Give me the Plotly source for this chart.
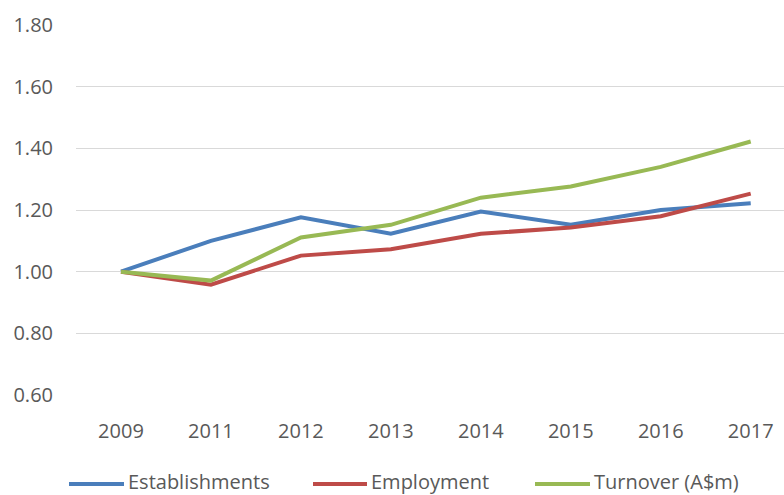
import plotly.graph_objects as go

years = ["2009", "2011", "2012", "2013", "2014", "2015", "2016", "2017"]
establishments = [1.00, 1.10, 1.176, 1.123, 1.195, 1.152, 1.20, 1.222]
employment = [1.00, 0.958, 1.052, 1.073, 1.123, 1.143, 1.180, 1.253]
turnover = [1.00, 0.971, 1.111, 1.152, 1.240, 1.276, 1.340, 1.422]

series_names = ["Establishments", "Employment", "Turnover (A$m)"]
colors = ["#4A7EBB", "#BE4B48", "#98B954"]

W, H = 784, 495
L, R, T, B = 76, 0, 25, 100
pw, ph = W - L - R, H - T - B

fig = go.Figure()
for name, vals, col in zip(series_names, [establishments, employment, turnover], colors):
    fig.add_trace(go.Scatter(
        x=list(range(len(years))), y=vals, name=name, mode="lines",
        line=dict(color=col, width=4), showlegend=False,
    ))

# custom legend (positions in pixels converted to paper coords)
legend_items = [(69, 124, 127), (313, 367, 370), (535, 590, 593)]
ly_line = (H - B - 484) / ph
ly_text = (H - B - 481) / ph
shapes = []
annotations = []
for (x0, x1, tx), name, col in zip(legend_items, series_names, colors):
    shapes.append(dict(type="line", xref="paper", yref="paper",
                       x0=(x0 - L) / pw, x1=(x1 - L) / pw, y0=ly_line, y1=ly_line,
                       line=dict(color=col, width=4)))
    annotations.append(dict(xref="paper", yref="paper", x=(tx - L) / pw, y=ly_text,
                            xanchor="left", yanchor="middle", text=name,
                            showarrow=False, borderpad=0,
                            font=dict(size=20, color="#595959")))

font_family = "Open Sans, Noto Sans, sans-serif"
fig.update_layout(
    width=W, height=H,
    margin=dict(l=L, r=R, t=T, b=B, autoexpand=False),
    plot_bgcolor="white", paper_bgcolor="white",
    font=dict(family=font_family, size=20, color="#595959"),
    xaxis=dict(
        tickmode="array", tickvals=list(range(len(years))), ticktext=years,
        range=[-0.5, 7.37], showgrid=False, zeroline=False, showline=False,
        ticklabelstandoff=22, tickfont=dict(size=20, color="#595959"),
        automargin=False,
    ),
    yaxis=dict(
        range=[0.6, 1.8], tickvals=[0.6, 0.8, 1.0, 1.2, 1.4, 1.6, 1.8],
        tickformat=".2f", showgrid=True, gridcolor="#D9D9D9", gridwidth=1,
        zeroline=False, showline=False, ticklabelstandoff=22,
        tickfont=dict(size=20, color="#595959"), automargin=False,
    ),
    shapes=shapes,
    annotations=annotations,
)

fig.write_html("out.html", config={"displayModeBar": False},
               post_script="document.body.style.margin='0px';")
